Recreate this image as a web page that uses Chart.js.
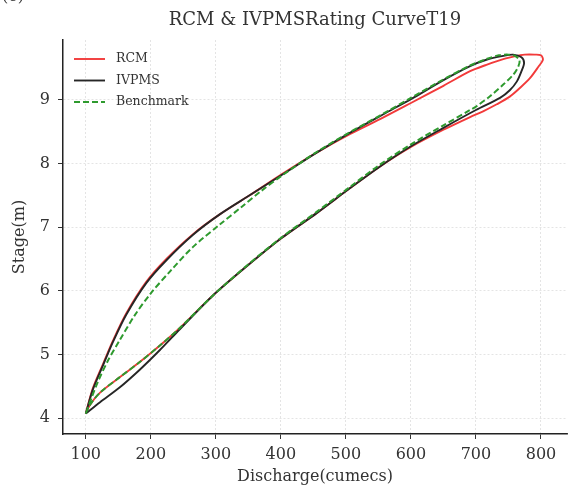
<!DOCTYPE html>
<html><head><meta charset="utf-8">
<script src="https://cdn.jsdelivr.net/npm/chart.js@4.4.1/dist/chart.umd.min.js"></script>
<style>html,body{margin:0;padding:0;background:#fff;}#wrap{width:568px;height:489px;position:relative;}</style>
</head><body><div id="wrap"><canvas id="c"></canvas></div>
<script>
const titleText = 'RCM & IVPMSRating CurveT19';
const panelLabel = '(e)';
const xTitle = 'Discharge(cumecs)';
const yTitle = 'Stage(m)';
const seriesNames = ['RCM', 'IVPMS', 'Benchmark'];
const xTicks = [100, 200, 300, 400, 500, 600, 700, 800];
const yTicks = [4, 5, 6, 7, 8, 9];

const rcmQ = [100,106,122,152,183,214,245,296,347,400,455,506,552,600,650,691,711,732,752,768,783,796,803,800,790,775,768,742,716,691,650,600,557,506,455,403,352,306,265,224,193,162,142,127,111,100];
const rcmStage = [4.07,4.20,4.40,4.64,4.88,5.14,5.42,5.93,6.38,6.82,7.22,7.61,7.95,8.26,8.53,8.73,8.82,8.93,9.05,9.19,9.34,9.52,9.63,9.70,9.71,9.71,9.70,9.64,9.55,9.45,9.22,8.95,8.72,8.46,8.17,7.84,7.50,7.20,6.89,6.50,6.14,5.64,5.22,4.86,4.47,4.07];

const ivpmsQ = [100,122,152,183,214,245,296,347,400,455,506,552,600,650,700,737,752,763,770,774,770,757,742,716,691,650,600,557,506,455,403,352,306,265,224,193,162,142,127,111,100];
const ivpmsStage = [4.07,4.25,4.48,4.76,5.07,5.40,5.93,6.38,6.82,7.22,7.61,7.95,8.27,8.56,8.84,9.03,9.15,9.29,9.45,9.58,9.67,9.71,9.69,9.63,9.53,9.31,9.01,8.77,8.48,8.17,7.83,7.50,7.20,6.88,6.48,6.12,5.62,5.20,4.84,4.45,4.07];

const benchQ = [100,106,122,152,183,214,245,296,347,400,455,506,552,600,650,691,701,722,742,757,765,767,760,750,735,716,691,650,600,557,506,455,403,370,340,306,265,230,200,175,152,134,119,109,100];
const benchStage = [4.07,4.20,4.40,4.64,4.88,5.14,5.42,5.93,6.39,6.83,7.24,7.63,7.98,8.30,8.60,8.84,8.90,9.06,9.24,9.39,9.52,9.62,9.69,9.71,9.70,9.64,9.54,9.32,9.03,8.78,8.49,8.18,7.82,7.57,7.32,7.04,6.69,6.31,5.96,5.61,5.22,4.90,4.58,4.32,4.07];

const pts = (xs, ys) => xs.map((x, i) => ({x: x, y: ys[i]}));
const FONT = '"DejaVu Serif", "Liberation Serif", serif';
const TXT = '#333333';

const styles = [
  {color: '#f23a3a', dash: [], width: 1.9, order: 3},
  {color: '#262626', dash: [], width: 1.9, order: 2},
  {color: '#2e9a2e', dash: [6, 3], width: 2.0, order: 1}
];
const seriesData = [pts(rcmQ, rcmStage), pts(ivpmsQ, ivpmsStage), pts(benchQ, benchStage)];

const datasets = seriesNames.map((n, i) => ({
  label: n,
  data: seriesData[i],
  showLine: true,
  borderColor: styles[i].color,
  backgroundColor: styles[i].color,
  borderWidth: styles[i].width,
  borderDash: styles[i].dash,
  pointRadius: 0,
  tension: 0.3,
  fill: false,
  order: styles[i].order
}));

const overlay = {
  id: 'overlay',
  afterDraw(chart) {
    const {ctx, chartArea} = chart;
    ctx.save();
    ctx.fillStyle = TXT;
    ctx.textBaseline = 'middle';
    ctx.textAlign = 'center';
    ctx.font = '18px ' + FONT;
    ctx.fillText(titleText, (chartArea.left + chartArea.right) / 2, 20);
    ctx.textAlign = 'left';
    ctx.font = '16px ' + FONT;
    ctx.fillText(panelLabel, 2, -3);
    const x0 = 74, x1 = 105, tx = 116, y0 = 59, dy = 21.5;
    ctx.font = '12.5px ' + FONT;
    chart.data.datasets.forEach((d, i) => {
      const y = y0 + i * dy;
      ctx.save();
      ctx.strokeStyle = d.borderColor;
      ctx.lineWidth = d.borderWidth;
      ctx.setLineDash(d.borderDash);
      ctx.beginPath(); ctx.moveTo(x0, y); ctx.lineTo(x1, y); ctx.stroke();
      ctx.restore();
      ctx.fillStyle = TXT;
      ctx.fillText(d.label, tx, y);
    });
    ctx.restore();
  }
};

new Chart(document.getElementById('c'), {
  type: 'scatter',
  data: {datasets: datasets},
  plugins: [overlay],
  options: {
    responsive: true,
    maintainAspectRatio: false,
    animation: false,
    layout: {padding: {top: 40, right: 1, left: 0, bottom: 0}},
    plugins: {legend: {display: false}, title: {display: false}, tooltip: {enabled: false}},
    scales: {
      x: {
        type: 'linear', min: 65, max: 840,
        afterBuildTicks: s => { s.ticks = xTicks.map(v => ({value: v})); },
        afterFit: s => { s.height = 55; },
        grid: {color: '#dedede', lineWidth: 0.8, tickColor: '#333', tickLength: 5, tickWidth: 1},
        border: {display: true, color: '#222', width: 1.5, dash: [2, 2]},
        ticks: {color: TXT, font: {family: FONT, size: 16}, padding: 6, maxRotation: 0},
        title: {display: true, text: xTitle, color: TXT, font: {family: FONT, size: 16}, padding: {top: 0, bottom: 3}}
      },
      y: {
        type: 'linear', min: 3.75, max: 9.94,
        afterBuildTicks: s => { s.ticks = yTicks.map(v => ({value: v})); },
        afterFit: s => { s.width = 63; },
        grid: {color: '#dedede', lineWidth: 0.8, tickColor: '#333', tickLength: 5, tickWidth: 1},
        border: {display: true, color: '#222', width: 1.5, dash: [2, 2]},
        ticks: {color: TXT, font: {family: FONT, size: 16}, padding: 8},
        title: {display: true, text: yTitle, color: TXT, font: {family: FONT, size: 16}, padding: {top: 10, bottom: 0}}
      }
    }
  }
});
</script></body></html>
